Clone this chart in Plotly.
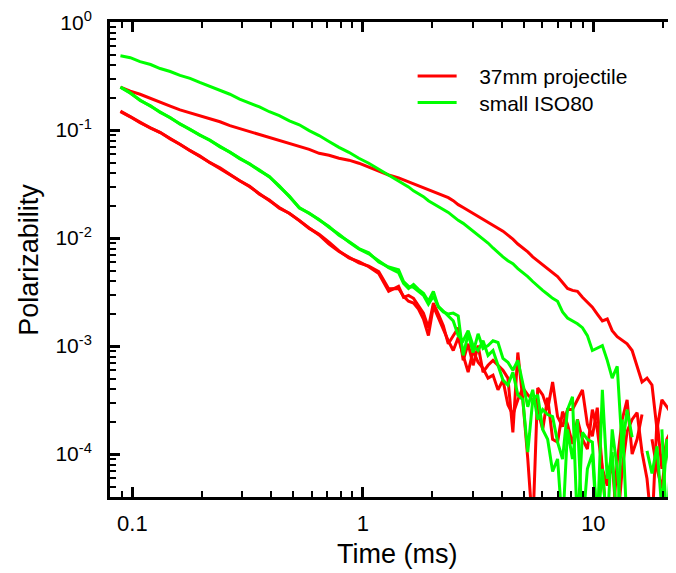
import math
import plotly.graph_objects as go

# ---------------- data ----------------
time_ms = [0.0888, 0.0980, 0.108, 0.120, 0.132, 0.146, 0.161, 0.178, 0.196, 0.217,
           0.240, 0.265, 0.292, 0.323, 0.356, 0.393, 0.434, 0.480, 0.530, 0.585,
           0.646, 0.713, 0.788, 0.870, 0.961, 1.061, 1.172, 1.294, 1.429,
           1.502, 1.578, 1.659, 1.743, 1.832, 1.925, 2.023, 2.126, 2.234, 2.348,
           2.467, 2.593, 2.725, 2.863, 3.009, 3.162, 3.323, 3.492, 3.670, 3.857,
           4.053, 4.259, 4.476, 4.703, 4.943, 5.194, 5.458, 5.736, 6.028, 6.334,
           6.657, 6.995, 7.351, 7.725, 8.118, 8.531, 8.966, 9.421, 9.901, 10.40,
           10.94, 11.49, 12.07, 12.69, 13.34, 14.01, 14.73, 15.48, 16.26, 17.09,
           17.96, 18.88, 19.83, 20.84, 21.90]

# 37mm projectile: three polarizabilities
proj_1 = [0.250, 0.2295, 0.215, 0.198, 0.182, 0.167, 0.154, 0.144, 0.136, 0.127,
          0.1196, 0.110, 0.1032, 0.0969, 0.0910, 0.0854, 0.0802, 0.0753, 0.0707, 0.0664,
          0.0610, 0.0585, 0.0549, 0.0527, 0.0494, 0.0454, 0.0418, 0.0384, 0.0361,
          0.0346, 0.0332, 0.0318, 0.0305, 0.0292, 0.0280, 0.0269, 0.0258, 0.0247, 0.0237,
          0.0222, 0.0204, 0.0192, 0.0180, 0.0169, 0.0159, 0.0149, 0.0140, 0.0131, 0.0123,
          0.0116, 0.01065, 0.00979, 0.00881, 0.00810, 0.00745, 0.00671, 0.00617, 0.00567, 0.00521,
          0.00479, 0.00440, 0.00388, 0.00342, 0.00328, 0.00321, 0.00283, 0.00255, 0.00229, 0.00198,
          0.00171, 0.00178, 0.00139, 0.00122, 0.00112, 0.00105, 0.00091, 0.000664, 0.000464, 0.000505,
          0.000436, 0.000169, 0.000318, 0.000274, 0.000232]

proj_2 = [0.148, 0.1328, 0.1171, 0.1054, 0.0949, 0.0836, 0.0737, 0.0650, 0.0573, 0.0505,
          0.0445, 0.0392, 0.0346, 0.0299, 0.0258, 0.0222, 0.0192, 0.0169, 0.0146, 0.0123,
          0.01088, 0.00919, 0.00761, 0.00657, 0.00604, 0.00543, 0.00470, 0.00321, 0.00357,
          0.00283, 0.00295, 0.00277, 0.00234, 0.00202, 0.00148, 0.00250, 0.00198, 0.00154, 0.00105,
          0.00125, 0.00148, 0.000737, 0.00105, 0.000664, 0.00101, 0.000573, 0.000664, 0.000737, 0.000664,
          0.000597, 0.000505, 0.000159, 0.000872, 0.000318, 9.0e-5, 2.0e-5, 0.000409, 0.000353, 0.000258,
          0.000464, 0.000222, 0.000180, 0.000258, 0.000258, 0.000318, 0.000393, 0.000188, 0.000146, 0.000269,
          7.3e-5, 5.1e-5, 8.5e-5, 2.0e-5, 7.3e-5, 0.000162, 0.000209, 0.000242, 0.000104, 5.9e-5,
          2.0e-5, 0.000209, 7.3e-5, 0.000137, 0.000169]

proj_3 = [0.150, 0.134, 0.118, 0.1045, 0.0955, 0.0830, 0.0740, 0.0645, 0.0578, 0.0500,
          0.0448, 0.0388, 0.0340, 0.0302, 0.0255, 0.0225, 0.0189, 0.0170, 0.0144, 0.0124,
          0.0107, 0.0088, 0.0075, 0.0066, 0.0059, 0.0055, 0.0049, 0.0034, 0.00342,
          0.00289, 0.00260, 0.00250, 0.00220, 0.00178, 0.00125, 0.00234, 0.00182, 0.00139, 0.00112,
          0.00091, 0.00120, 0.000819, 0.000573, 0.00091, 0.000707, 0.000623, 0.000505, 0.000538, 0.000393,
          0.000484, 0.000286, 0.000232, 0.000318, 0.000409, 0.000353, 0.000318, 0.000258, 0.000169, 0.000332,
          0.000137, 0.000129, 0.000247, 0.000188, 0.000124, 0.000209, 0.000137, 0.000111, 0.000258, 0.000169,
          7.3e-5, 2.0e-5, 2.0e-5, 8.5e-5, 0.000209, 0.000318, 0.000100, 0.000137, 0.000232, None,
          0.000137, 7.3e-5, 4.8e-5, 0.000124, 6.3e-5]

# small ISO80: three polarizabilities
iso_1 = [0.489, 0.469, 0.431, 0.405, 0.372, 0.349, 0.321, 0.302, 0.277, 0.255,
         0.234, 0.215, 0.194, 0.178, 0.164, 0.148, 0.136, 0.122, 0.112, 0.0990,
         0.0891, 0.0785, 0.0692, 0.0623, 0.0549, 0.0494, 0.0436, 0.0384, 0.0339,
         0.0318, 0.0298, 0.0274, 0.0258, 0.0242, 0.0222, 0.0209, 0.0196, 0.0184, 0.0173,
         0.0159, 0.0146, 0.0137, 0.0126, 0.0116, 0.01065, 0.00979, 0.00900, 0.00810, 0.00729,
         0.00671, 0.00617, 0.00579, 0.00521, 0.00479, 0.00440, 0.00396, 0.00357, 0.00328, 0.00302,
         0.00277, 0.00260, 0.00207, 0.00182, 0.00171, 0.00161, 0.00148, 0.00125, 0.00091, 0.00095,
         0.00101, 0.000737, 0.000505, 0.000650, 0.000111, 0.000258, 0.000143, None, None, 0.000107,
         6.6e-5, 0.000118, 3.0e-5, 0.000137, 5.1e-5]

iso_2 = [0.250, 0.220, 0.190, 0.167, 0.148, 0.130, 0.1147, 0.1011, 0.0910, 0.0802,
         0.0707, 0.0623, 0.0549, 0.0484, 0.0427, 0.0368, 0.0305, 0.0242, 0.0192, 0.0169,
         0.0149, 0.0126, 0.01088, 0.00919, 0.00793, 0.00714, 0.00617, 0.00532, 0.00479,
         0.00380, 0.00342, 0.00372, 0.00335, 0.00308, 0.00260, 0.00321, 0.00230, 0.00207, 0.00198,
         0.00202, 0.00190, 0.000819, 0.00130, 0.000872, 0.00130, 0.00095, 0.00101, 0.00112, 0.00108,
         0.000769, 0.000707, 0.000597, 0.000738, 0.000436, 0.000274, 0.000393, 0.000209, 0.000258, 0.000232,
         0.000222, 0.000129, 9.0e-5, 0.000258, 0.000339, 2.0e-5, 0.000159, 0.000137, 0.000129, 2.0e-5,
         0.000393, 5.9e-5, 0.000104, 2.0e-5, 0.000209, 2.0e-5, None, None, None, None,
         None, None, 0.000169, 2.0e-5, 0.000137]

iso_3 = [0.250, 0.222, 0.188, 0.168, 0.146, 0.131, 0.1135, 0.1020, 0.0900, 0.0810,
         0.0700, 0.0628, 0.0545, 0.0488, 0.0420, 0.0372, 0.0300, 0.0245, 0.0190, 0.0171,
         0.0147, 0.0128, 0.0106, 0.0093, 0.0080, 0.0073, 0.0060, 0.0054, 0.00510,
         0.00396, 0.00357, 0.00350, 0.00321, 0.00295, 0.00244, 0.00289, 0.00234, 0.00211, 0.00190,
         0.00171, 0.00125, 0.00112, 0.00139, 0.00101, 0.00091, 0.00112, 0.000819, 0.00091, 0.000664,
         0.000484, 0.000436, 0.000573, 0.000353, 0.000318, 0.000104, 0.000318, 0.000353, 0.000169, 0.000137,
         6.9e-5, 9.0e-5, 2.0e-5, 0.000169, 9.0e-5, 0.000209, 2.0e-5, 7.3e-5, 0.000100, 2.0e-5,
         7.3e-5, 2.0e-5, 0.000169, 7.3e-5, 2.0e-5, None, None, None, None, None,
         None, None, None, None, None]

series_names = ["37mm projectile", "small ISO80"]
x_major = [0.1, 1, 10]
x_major_text = ["0.1", "1", "10"]
x_minor = [0.08, 0.09, 0.2, 0.3, 0.4, 0.5, 0.6, 0.7, 0.8, 0.9,
           2, 3, 4, 5, 6, 7, 8, 9, 20]
y_major = [1e-4, 1e-3, 1e-2, 1e-1, 1]
y_major_text = ["10<sup>-4</sup>", "10<sup>-3</sup>", "10<sup>-2</sup>",
                "10<sup>-1</sup>", "10<sup>0</sup>"]
y_minor = [4e-5, 5e-5, 6e-5, 7e-5, 8e-5, 9e-5,
           2e-4, 3e-4, 4e-4, 5e-4, 6e-4, 7e-4, 8e-4, 9e-4,
           2e-3, 3e-3, 4e-3, 5e-3, 6e-3, 7e-3, 8e-3, 9e-3,
           2e-2, 3e-2, 4e-2, 5e-2, 6e-2, 7e-2, 8e-2, 9e-2,
           0.2, 0.3, 0.4, 0.5, 0.6, 0.7, 0.8, 0.9]

RED = "#ff0000"
GREEN = "#00ff00"
FONT = "Liberation Sans, Arial, sans-serif"
PAD = "\u00a0\u00a0\u00a0"  # spacing between legend line and its text

fig = go.Figure()
for ys, show in [(proj_1, True), (proj_2, False), (proj_3, False)]:
    fig.add_trace(go.Scatter(x=time_ms, y=ys, mode="lines", name=PAD + series_names[0],
                             showlegend=show, legend="legend",
                             line=dict(color=RED, width=3)))
for ys, show in [(iso_1, True), (iso_2, False), (iso_3, False)]:
    fig.add_trace(go.Scatter(x=time_ms, y=ys, mode="lines", name=PAD + series_names[1],
                             showlegend=show, legend="legend2",
                             line=dict(color=GREEN, width=3)))

legend_style = dict(xanchor="left", yanchor="top", bgcolor="rgba(0,0,0,0)",
                    borderwidth=0, itemwidth=39,
                    font=dict(family=FONT, size=21, color="black"))

fig.update_layout(
    width=676, height=573,
    margin=dict(l=102, r=0, t=9, b=84),
    paper_bgcolor="white", plot_bgcolor="white",
    font=dict(family=FONT, color="black"),
    xaxis=dict(type="log", range=[math.log10(0.08), math.log10(24)],
               showline=True, linecolor="black", linewidth=3, mirror="ticks",
               ticks="inside", ticklen=10, tickwidth=2.5, tickcolor="black",
               tickvals=x_major, ticktext=x_major_text,
               tickfont=dict(family=FONT, size=22, color="black"),
               ticklabelstandoff=5, ticklabeloverflow="allow",
               minor=dict(ticks="inside", ticklen=6, tickwidth=2, tickcolor="black",
                          tickvals=x_minor, showgrid=False),
               showgrid=False, zeroline=False),
    yaxis=dict(type="log", range=[math.log10(4e-5), 0.0015],
               showline=True, linecolor="black", linewidth=3, mirror="ticks",
               ticks="inside", ticklen=10, tickwidth=2.5, tickcolor="black",
               tickvals=y_major, ticktext=y_major_text,
               tickfont=dict(family=FONT, size=21, color="black"),
               ticklabelstandoff=11, ticklabeloverflow="allow",
               minor=dict(ticks="inside", ticklen=6, tickwidth=2, tickcolor="black",
                          tickvals=y_minor, showgrid=False),
               showgrid=False, zeroline=False),
    legend=dict(x=0.53, y=0.929, **legend_style),
    legend2=dict(x=0.53, y=0.873, **legend_style),
    annotations=[
        dict(text="Time (ms)", xref="paper", yref="paper", x=0.502, y=-0.119,
             xanchor="center", yanchor="middle", showarrow=False,
             font=dict(family=FONT, size=27, color="black")),
        dict(text="Polarizability", xref="paper", yref="paper", x=-0.143, y=0.5,
             xanchor="center", yanchor="middle", textangle=-90, showarrow=False,
             font=dict(family=FONT, size=27, color="black")),
    ],
)

fig.write_html("out.html")
